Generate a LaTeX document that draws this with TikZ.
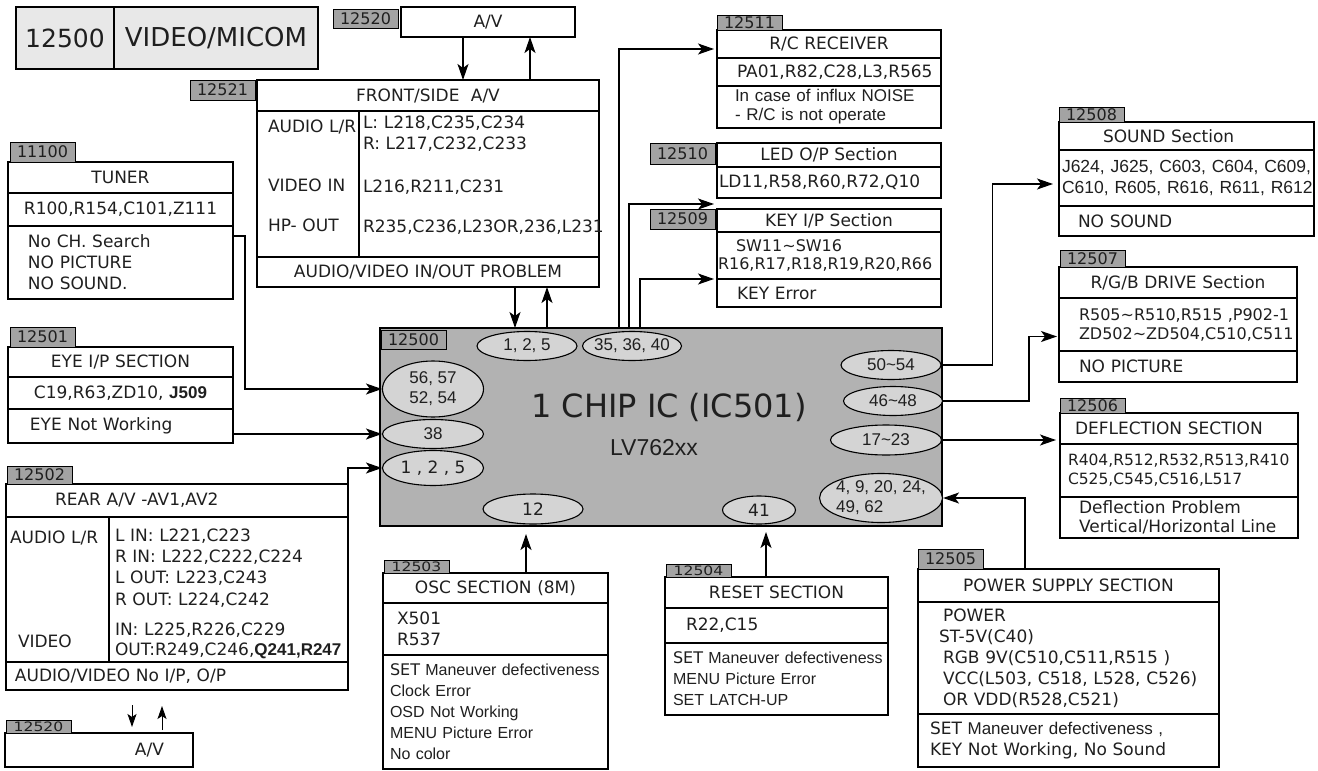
\documentclass[tikz,border=0pt]{standalone}
\usepackage{fontspec}
\setmainfont{DejaVu Sans}
\newfontfamily\gulfam{DejaVu Sans}
\newfontfamily\arifam{Liberation Sans}
\newfontfamily\widefam[FakeStretch=1.2]{DejaVu Sans}
\usepackage{tikz}
\usetikzlibrary{positioning}
\usetikzlibrary{shapes.geometric}
\usetikzlibrary{arrows.meta}
\definecolor{titlegray}{rgb}{0.91,0.91,0.91}
\definecolor{taggray}{rgb}{0.64,0.64,0.64}
\definecolor{chipgray}{rgb}{0.70,0.70,0.70}
\definecolor{pingray}{rgb}{0.83,0.83,0.83}
\definecolor{inkgray}{rgb}{0.12,0.12,0.12}
\newcommand{\gulf}{\fontsize{17}{21}\selectfont}
\newcommand{\arif}{\arifam\fontsize{16}{21}\selectfont}
\newcommand{\indtext}[2]{\leftskip=#1\relax #2\par}
\tikzset{
box_row/.style={rectangle, draw, line width=1.2pt, inner sep=0pt, outer sep=0pt, align=left, font=\gulf, text=inkgray},
box_head/.style={box_row, align=center},
id_tag/.style={rectangle, draw, line width=1pt, fill=taggray, inner sep=0pt, outer sep=0pt, minimum width=65pt, minimum height=#1, text=inkgray, font=\fontsize{16}{18}\selectfont},
id_tag/.default=19pt,
id_tag_small/.style={id_tag=13pt, font=\widefam\fontsize{13}{13}\selectfont},
pin_oval/.style={ellipse, draw, line width=1.1pt, fill=pingray, inner xsep=-6pt, inner ysep=0pt, align=center, text=inkgray, font=\arifam\fontsize{17}{20}\selectfont},
chip_body/.style={rectangle, draw, line width=1.3pt, fill=chipgray, inner sep=0pt, outer sep=0pt},
wire/.style={line width=1.3pt, -{Stealth[length=16pt, width=11pt, inset=4pt]}},
thin_wire/.style={line width=1pt, -{Stealth[length=13pt, width=9pt, inset=3pt]}}
}

\begin{document}
\begin{tikzpicture}[x=1pt, y=-1pt]
    \useasboundingbox (0,0) rectangle (1318,771);

    \node[box_head, fill=titlegray, text width=98pt, minimum height=62pt, font=\fontsize{25}{28}\selectfont, anchor=north west] (title_num) at (16,7) {12500};
    \node[box_head, fill=titlegray, text width=204pt, minimum height=62pt, font=\fontsize{26}{28}\selectfont] (title_name) [right=0pt of title_num] {VIDEO/MICOM};

    \node[box_head, text width=174pt, minimum height=30pt, anchor=north west] (av_top) at (401,7) {A/V};
    \node[id_tag] (av_top_tag) [left=3pt of av_top.north west, anchor=north east, yshift=-2pt] {12520};

    \node[box_head, text width=342pt, minimum height=31pt, anchor=north west] (front_head) at (257,80) {FRONT/SIDE\ \ A/V};
    \node[id_tag=20pt] (front_tag) [left=2pt of front_head.north west, anchor=north east] {12521};
    \node[box_row, text width=102pt, minimum height=146pt] (front_lcol) [below=0pt of front_head.south west, anchor=north west] {\indtext{11pt}{AUDIO L/R\\[38pt]VIDEO IN\\[19pt]HP- OUT\rule[-16pt]{0pt}{1pt}}};
    \node[box_row, text width=240pt, minimum height=146pt] (front_rcol) [right=0pt of front_lcol.north east, anchor=north west] {\indtext{4pt}{L: L218,C235,C234\\R: L217,C232,C233\\[22pt]L216,R211,C231\\[19pt]R235,C236,L23OR,236,L231\rule[-20pt]{0pt}{1pt}}};
    \node[box_head, text width=342pt, minimum height=30pt] (front_foot) [below=0pt of front_lcol.south west, anchor=north west] {AUDIO/VIDEO IN/OUT PROBLEM};

    \node[box_head, text width=225pt, minimum height=31pt, anchor=north west] (tuner_head) at (8,162) {TUNER};
    \node[id_tag=20pt] (tuner_tag) [above right=0pt and 2pt of tuner_head.north west] {11100};
    \node[box_row, text width=225pt, minimum height=33pt] (tuner_parts) [below=0pt of tuner_head] {\indtext{16pt}{R100,R154,C101,Z111}};
    \node[box_row, text width=225pt, minimum height=73pt] (tuner_prob) [below=0pt of tuner_parts] {\indtext{20pt}{No CH. Search\\NO PICTURE\\NO SOUND.}};

    \node[box_head, text width=225pt, minimum height=30pt, anchor=north west] (eye_head) at (8,347) {EYE I/P SECTION};
    \node[id_tag=20pt] (eye_tag) [above right=0pt and 2pt of eye_head.north west] {12501};
    \node[box_head, text width=225pt, minimum height=32pt] (eye_parts) [below=0pt of eye_head] {C19,R63,ZD10, {\arifam\bfseries J509}};
    \node[box_row, text width=225pt, minimum height=34pt] (eye_prob) [below=0pt of eye_parts] {\indtext{22pt}{EYE Not Working}};

    \node[box_row, text width=342pt, minimum height=33pt, anchor=north west] (rear_head) at (6,484) {\indtext{49pt}{REAR A/V -AV1,AV2}};
    \node[id_tag=18pt] (rear_tag) [above right=0pt and 1pt of rear_head.north west] {12502};
    \node[box_row, text width=103pt, minimum height=145pt] (rear_lcol) [below=0pt of rear_head.south west, anchor=north west] {\indtext{4pt}{AUDIO L/R\\[83pt]\hspace*{8pt}VIDEO}};
    \node[box_row, text width=239pt, minimum height=145pt] (rear_rcol) [right=0pt of rear_lcol.north east, anchor=north west] {\indtext{6pt}{\rule{0pt}{21pt}L IN: L221,C223\\R IN: L222,C222,C224\\L OUT: L223,C243\\[1pt]R OUT: L224,C242\\[9pt]IN: L225,R226,C229\\[-1pt]OUT:R249,C246,{\arifam\bfseries Q241,R247}}};
    \node[box_row, text width=342pt, minimum height=28pt] (rear_foot) [below=0pt of rear_lcol.south west, anchor=north west] {\indtext{9pt}{AUDIO/VIDEO No I/P, O/P}};

    \node[box_row, text width=188pt, minimum height=34pt, anchor=north west] (av_bot) at (5,733) {\indtext{130pt}{A/V}};
    \node[id_tag_small] (av_bot_tag) [above right=0pt and 1pt of av_bot.north west] {12520};

    \node[box_head, text width=225pt, minimum height=30pt, anchor=north west] (osc_head) at (383,573) {OSC SECTION (8M)};
    \node[id_tag_small] (osc_tag) [above right=0pt and 1pt of osc_head.north west] {12503};
    \node[box_row, text width=225pt, minimum height=52pt] (osc_parts) [below=0pt of osc_head] {\indtext{14pt}{X501\\R537}};
    \node[box_row, text width=225pt, minimum height=114pt, font=\arif] (osc_prob) [below=0pt of osc_parts] {\indtext{7pt}{{\gulfam SET} Maneuver defectiveness\\Clock Error\\OSD Not Working\\MENU Picture Error\\No color}};

    \node[box_head, text width=223pt, minimum height=31pt, anchor=north west] (rst_head) at (665,577) {RESET SECTION};
    \node[id_tag_small] (rst_tag) [above right=0pt and 1pt of rst_head.north west] {12504};
    \node[box_row, text width=223pt, minimum height=35pt] (rst_parts) [below=0pt of rst_head] {\indtext{21pt}{R22,C15}};
    \node[box_row, text width=223pt, minimum height=72pt, font=\arif] (rst_prob) [below=0pt of rst_parts] {\indtext{8pt}{{\gulfam SET} Maneuver defectiveness\\MENU Picture Error\\SET LATCH-UP}};

    \node[box_head, text width=301pt, minimum height=33pt, anchor=north west] (pw_head) at (918,569) {POWER SUPPLY SECTION};
    \node[id_tag=20pt] (pw_tag) [above right=0pt and 0pt of pw_head.north west] {12505};
    \node[box_row, text width=301pt, minimum height=112pt] (pw_body) [below=0pt of pw_head] {\indtext{25pt}{POWER\\\hspace*{-4pt}ST-5V(C40)\\RGB 9V(C510,C511,R515 )\\VCC(L503, C518, L528, C526)\\OR VDD(R528,C521)}};
    \node[box_row, text width=301pt, minimum height=53pt] (pw_foot) [below=0pt of pw_body] {\indtext{12pt}{SET {\arifam Maneuver defectiveness ,}\\KEY Not Working, No Sound}};

    \node[box_row, text width=238pt, minimum height=31pt, anchor=north west] (defl_head) at (1060,413) {\indtext{15pt}{DEFLECTION SECTION}};
    \node[id_tag=15pt] (defl_tag) [above right=0pt and 0pt of defl_head.north west] {12506};
    \node[box_row, text width=238pt, minimum height=53pt, font=\fontsize{15.5}{19}\selectfont] (defl_parts) [below=0pt of defl_head] {\indtext{8pt}{R404,R512,R532,R513,R410\\C525,C545,C516,L517}};
    \node[box_row, text width=238pt, minimum height=41pt, font=\fontsize{17}{19}\selectfont] (defl_prob) [below=0pt of defl_parts] {\indtext{19pt}{Deflection Problem\\Vertical/Horizontal Line}};

    \node[box_head, text width=238pt, minimum height=31pt, anchor=north west] (rgb_head) at (1059,267) {R/G/B DRIVE Section};
    \node[id_tag=17pt] (rgb_tag) [above right=0pt and 1pt of rgb_head.north west] {12507};
    \node[box_row, text width=238pt, minimum height=53pt, font=\fontsize{16}{19}\selectfont] (rgb_parts) [below=0pt of rgb_head] {\indtext{20pt}{R505\textasciitilde R510,R515 ,P902-1\\ZD502\textasciitilde ZD504,C510,C511}};
    \node[box_row, text width=238pt, minimum height=31pt] (rgb_prob) [below=0pt of rgb_parts] {\indtext{20pt}{NO PICTURE}};

    \node[box_row, text width=255pt, minimum height=28pt, anchor=north west] (snd_head) at (1059,122) {\indtext{44pt}{SOUND Section}};
    \node[id_tag=15pt] (snd_tag) [above right=0pt and 0pt of snd_head.north west] {12508};
    \node[box_row, text width=255pt, minimum height=56pt, font=\arifam\fontsize{17.5}{21}\selectfont] (snd_parts) [below=0pt of snd_head] {\indtext{3pt}{J624, J625, C603, C604, C609,\\C610, R605, R616, R611, R612}};
    \node[box_row, text width=255pt, minimum height=30pt] (snd_prob) [below=0pt of snd_parts] {\indtext{19pt}{NO SOUND}};

    \node[box_head, text width=224pt, minimum height=23pt, anchor=north west] (key_head) at (717,209) {KEY I/P Section};
    \node[id_tag=20pt] (key_tag) [left=2pt of key_head.north west, anchor=north east] {12509};
    \node[box_row, text width=224pt, minimum height=47pt, font=\fontsize{16}{18}\selectfont] (key_parts) [below=0pt of key_head] {\indtext{1pt}{\hspace*{18pt}SW11\textasciitilde SW16\\R16,R17,R18,R19,R20,R66}};
    \node[box_row, text width=224pt, minimum height=28pt] (key_prob) [below=0pt of key_parts] {\indtext{20pt}{KEY Error}};

    \node[box_head, text width=224pt, minimum height=24pt, anchor=north west] (led_head) at (717,143) {LED O/P Section};
    \node[id_tag=21pt] (led_tag) [left=2pt of led_head.north west, anchor=north east] {12510};
    \node[box_row, text width=224pt, minimum height=31pt] (led_parts) [below=0pt of led_head] {\indtext{2pt}{LD11,R58,R60,R72,Q10}};

    \node[box_head, text width=224pt, minimum height=28pt, anchor=north west] (rc_head) at (717,30) {R/C RECEIVER};
    \node[id_tag=15pt] (rc_tag) [above right=0pt and 0pt of rc_head.north west] {12511};
    \node[box_row, text width=224pt, minimum height=28pt] (rc_parts) [below=0pt of rc_head] {\indtext{20pt}{PA01,R82,C28,L3,R565}};
    \node[box_row, text width=224pt, minimum height=42pt, font=\arifam\fontsize{17}{19}\selectfont] (rc_prob) [below=0pt of rc_parts] {\indtext{18pt}{In case of influx NOISE\\- R/C is not operate}};

    \node[chip_body, minimum width=562pt, minimum height=198pt, anchor=north west] (ic) at (380,328) {};
    \node[id_tag=19pt] (ic_tag) [below right=2pt and 1pt of ic.north west] {12500};
    \node[text=inkgray, font=\fontsize{32}{36}\selectfont] (ic_name) at (669,407) {1 CHIP IC (IC501)};
    \node[text=inkgray, font=\arifam\fontsize{23}{26}\selectfont] (ic_model) at (654,448) {LV762xx};

    \node[pin_oval, minimum width=100pt, minimum height=29pt] (p125_top) at (527,346) {1, 2, 5};
    \node[pin_oval, minimum width=99pt, minimum height=29pt] (p35_40) at (632,346) {35, 36, 40};
    \node[pin_oval, minimum width=101pt, minimum height=56pt] (p56_54) at (433,389) {56, 57\\52, 54};
    \node[pin_oval, minimum width=101pt, minimum height=29pt] (p38) at (433,434) {38};
    \node[pin_oval, minimum width=101pt, minimum height=35pt, font=\gulf] (p125_left) at (433,468) {1 , 2 , 5};
    \node[pin_oval, minimum width=100pt, minimum height=30pt, font=\gulf] (p12) at (533,509) {12};
    \node[pin_oval, minimum width=73pt, minimum height=28pt, font=\gulf] (p41) at (759,510) {41};
    \node[pin_oval, minimum width=100pt, minimum height=29pt] (p50_54) at (891,365) {50\textasciitilde 54};
    \node[pin_oval, minimum width=99pt, minimum height=29pt] (p46_48) at (893,401) {46\textasciitilde 48};
    \node[pin_oval, minimum width=111pt, minimum height=30pt] (p17_23) at (886,440) {17\textasciitilde 23};
    \node[pin_oval, minimum width=123pt, minimum height=49pt, align=left] (p4_62) at (881,498) {4, 9, 20, 24,\\49, 62};

    \draw[wire] ([xshift=62pt]av_top.south west) -- ([xshift=62pt]av_top.south west |- front_head.north);
    \draw[wire] ([xshift=129pt]av_top.south west |- front_head.north) -- ([xshift=129pt]av_top.south west);
    \draw[wire] ([xshift=-12pt]p125_top.north |- front_foot.south) -- ([xshift=-12pt]p125_top.north |- ic.north);
    \draw[wire] ([xshift=20pt]p125_top.north |- ic.north) -- ([xshift=20pt]p125_top.north |- front_foot.south);
    \draw[wire, shorten >=3pt] ([xshift=-13pt]p35_40.north |- ic.north) |- ([yshift=-5pt]rc_head.west);
    \draw[wire, shorten >=3pt] ([xshift=-3pt]p35_40.north |- ic.north) |- ([yshift=5pt]key_head.north west);
    \draw[wire, shorten >=3pt] ([xshift=8pt]p35_40.north |- ic.north) |- (key_parts.south west);
    \draw[wire] ([yshift=-10pt]tuner_prob.north east) -- ++(12,0) |- (p56_54.west);
    \draw[wire] (eye_prob.east |- p38.west) -- (p38.west);
    \draw[wire] (rear_head.north east) |- (p125_left.west);
    \draw[thin_wire, shorten <=15pt, shorten >=6pt] ([xshift=126pt]rear_foot.south west) -- ([xshift=126pt]rear_foot.south west |- av_bot.north);
    \draw[thin_wire, shorten <=3pt, shorten >=16pt] ([xshift=156pt]rear_foot.south west |- av_bot.north) -- ([xshift=156pt]rear_foot.south west);
    \draw[wire, shorten >=8pt] ([xshift=143pt]osc_head.north west) -- ([xshift=143pt]osc_head.north west |- ic.south);
    \draw[wire, shorten >=6pt] ([xshift=101pt]rst_head.north west) -- ([xshift=101pt]rst_head.north west |- ic.south);
    \draw[wire] ([xshift=107pt]pw_head.north west) |- (p4_62.east);
    \draw[wire, shorten >=6pt] (p50_54.east) -- ++(51,0) |- ([yshift=-6pt]snd_parts.west);
    \draw[wire, shorten >=2pt] (p46_48.east) -- ++(86,0) |- ([yshift=-12pt]rgb_parts.west);
    \draw[wire, shorten >=4pt] (p17_23.east) -- (p17_23.east -| defl_head.west);
\end{tikzpicture}
\end{document}
